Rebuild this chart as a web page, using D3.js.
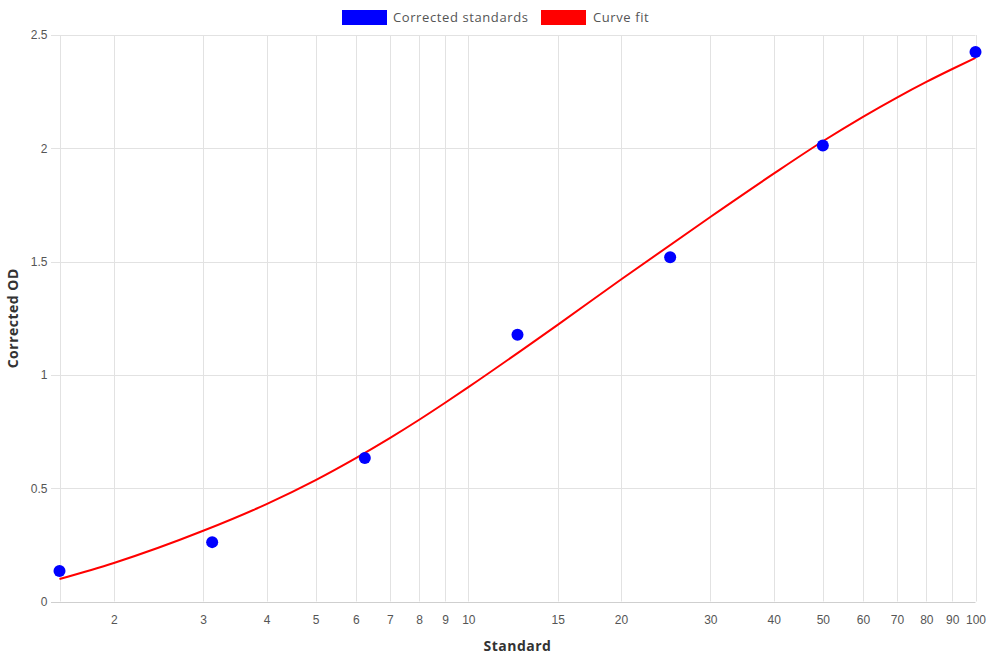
<!DOCTYPE html>
<html><head><meta charset="utf-8">
<script src="https://cdn.jsdelivr.net/npm/d3@7"></script>
<style>body{margin:0;background:#fff}svg{display:block}</style>
</head><body>
<svg id="c" width="990" height="660"></svg>
<script>
const stdX = [1.5625, 3.125, 6.25, 12.5, 25, 50, 100];
const stdY = [0.135, 0.262, 0.633, 1.177, 1.519, 2.012, 2.425];
const fitX = [1.5625, 2, 3, 4, 5, 6, 7, 8, 9, 10, 15, 20, 30, 40, 50, 60, 70, 80, 90, 100];
const fitY = [0.099, 0.170, 0.312, 0.430, 0.536, 0.633, 0.721, 0.802, 0.877, 0.946, 1.221, 1.421, 1.697, 1.888, 2.031, 2.139, 2.224, 2.293, 2.350, 2.399];
const xTicks = [2, 3, 4, 5, 6, 7, 8, 9, 10, 15, 20, 30, 40, 50, 60, 70, 80, 90, 100];
const yTicks = [0, 0.5, 1, 1.5, 2, 2.5];
const seriesNames = ["Corrected standards", "Curve fit"];

const svg = d3.select("#c");
const L = 59.5, R = 975.5, T = 35, B = 601.5;
const x = d3.scaleLog().domain([1.5625, 100]).range([L, R]);
const y = d3.scaleLinear().domain([0, 2.5]).range([B, T]);
const grid = "#e2e2e2";
const tickFont = "'Liberation Sans', Arial, sans-serif";
const titleFont = "'Open Sans', sans-serif";

// vertical grid
svg.append("g").selectAll("line").data([1.5625].concat(xTicks)).join("line")
  .attr("x1", d => Math.round(x(d)) + 0.5).attr("x2", d => Math.round(x(d)) + 0.5)
  .attr("y1", T).attr("y2", B).attr("stroke", grid);
// horizontal grid with ticks
svg.append("g").selectAll("line").data(yTicks).join("line")
  .attr("x1", 51).attr("x2", R)
  .attr("y1", d => Math.round(y(d)) + 0.5).attr("y2", d => Math.round(y(d)) + 0.5)
  .attr("stroke", d => d === 0 ? "#cfcfcf" : grid);

// axis labels
const xa = d3.axisBottom(x).tickValues(xTicks).tickFormat(d3.format("d")).tickSize(0).tickPadding(14);
svg.append("g").attr("transform", `translate(0,${B})`).call(xa)
  .call(g => g.select(".domain").remove())
  .selectAll("text").attr("font-family", tickFont).attr("font-size", 12).attr("fill", "#555");
const ya = d3.axisLeft(y).tickValues(yTicks).tickFormat(d => d3.format("~g")(d)).tickSize(0).tickPadding(12);
svg.append("g").attr("transform", `translate(${L},0)`).call(ya)
  .call(g => g.select(".domain").remove())
  .selectAll("text").attr("font-family", tickFont).attr("font-size", 12).attr("fill", "#555");

// curve
const line = d3.line().x((d, i) => x(fitX[i])).y(d => y(d)).curve(d3.curveMonotoneX);
svg.append("path").datum(fitY).attr("d", line).attr("fill", "none")
  .attr("stroke", "#ff0000").attr("stroke-width", 2);

// points
svg.append("g").selectAll("circle").data(stdY).join("circle")
  .attr("cx", (d, i) => x(stdX[i])).attr("cy", d => y(d)).attr("r", 6)
  .attr("fill", "#0000ff");

// titles
svg.append("text").attr("x", (L + R) / 2).attr("y", 651).attr("text-anchor", "middle")
  .attr("font-family", titleFont).attr("font-weight", "bold").attr("font-size", 14).attr("letter-spacing", 0.5).attr("fill", "#333")
  .text("Standard");
svg.append("text").attr("transform", `translate(18,${(T + B) / 2}) rotate(-90)`).attr("text-anchor", "middle")
  .attr("font-family", titleFont).attr("font-weight", "bold").attr("font-size", 14).attr("letter-spacing", 0.5).attr("fill", "#333")
  .text("Corrected OD");

// legend
const leg = [{ name: seriesNames[0], color: "#0000ff", bx: 342, tx: 393 }, { name: seriesNames[1], color: "#ff0000", bx: 541, tx: 593 }];
const lg = svg.append("g");
lg.selectAll("rect").data(leg).join("rect").attr("x", d => d.bx).attr("y", 10).attr("width", 45).attr("height", 15)
  .attr("fill", d => d.color);
lg.selectAll("text").data(leg).join("text").attr("x", d => d.tx).attr("y", 21.5)
  .attr("font-family", titleFont).attr("font-size", 13).attr("letter-spacing", 0.6).attr("fill", "#555").text(d => d.name);
</script>
</body></html>
